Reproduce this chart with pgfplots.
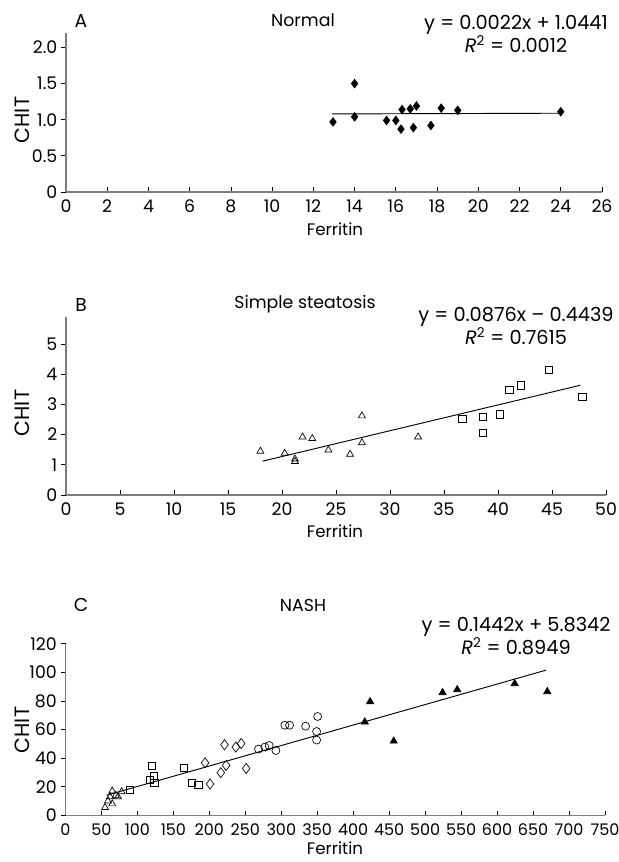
\documentclass[border=0pt]{standalone}
\usepackage{fontspec}
\setmainfont{Poppins}
\usepackage{pgfplots}
\pgfplotsset{compat=1.18}

\definecolor{spine}{RGB}{125,125,125}

\pgfplotsset{
  panel/.style={
    scale only axis, anchor=south west,
    axis x line*=bottom, axis y line*=left,
    axis line style={spine, line width=1pt, -},
    every tick/.style={black, line width=0.6pt},
    xtick align=inside, ytick align=outside,
    major tick length=3.5pt,
    tick label style={font=\fontsize{13}{14}\selectfont},
    xticklabel style={yshift=-2.5pt},
    yticklabel style={xshift=0.5pt},
    /pgf/number format/assume math mode=true,
    clip=false,
  },
  fitline/.style={black, line width=0.7pt, mark=none},
  opentri/.style={only marks, mark=triangle, mark size=3pt, mark options={black, line width=0.5pt}},
  opensq/.style={only marks, mark=square, mark size=2.7pt, mark options={black, line width=0.5pt}},
}

\begin{document}
\begin{tikzpicture}[x=0.75pt, y=-0.75pt]
\useasboundingbox (0,0) rectangle (618,862);
\coordinate (pA) at (66,192);
\coordinate (pB) at (66,495);
\coordinate (pC) at (65.5,815.3);

% ---- A: Normal
\begin{axis}[panel, at={(pA)}, width=402pt, height=119.25pt,
  xmin=0, xmax=26, ymin=0, ymax=2.2,
  xtick={0,2,...,26}, ytick={0,0.5,1,1.5,2},
  yticklabels={0,0.5,1.0,1.5,2.0}]
\addplot[fitline] coordinates {(12.9,1.08) (24,1.09)};
\addplot[only marks, mark=diamond*, mark size=3.3pt, black] coordinates {
  (12.95,0.97) (14.0,1.50) (14.0,1.04) (15.55,0.99) (16.0,0.99)
  (16.3,1.14) (16.25,0.87) (16.7,1.15) (16.85,0.89) (17.0,1.19)
  (17.7,0.92) (18.2,1.16) (19.0,1.13) (24.0,1.11)};
\end{axis}
\node at (81,21) {\fontsize{14}{16}\selectfont A};
\node at (303,20) {\fontsize{13}{15}\selectfont Normal};
\node[align=center] at (516,34) {\fontsize{14.5}{17}\selectfont y = 0.0022x + 1.0441\\[0pt]\fontsize{14.5}{17}\selectfont \textit{R}\textsuperscript{2} = 0.0012};
\node[rotate=90] at (22,120) {\fontsize{15.5}{17}\selectfont CHIT};
\node at (335,229) {\fontsize{12.5}{15}\selectfont Ferritin};

% ---- B: Simple steatosis
\begin{axis}[panel, at={(pB)}, width=405pt, height=133.7pt,
  xmin=0, xmax=50, ymin=0, ymax=5.9,
  xtick={0,5,...,50}, ytick={0,1,...,5}]
\addplot[fitline] coordinates {(18.2,1.12) (47.6,3.63)};
\addplot[opentri] coordinates {
  (18.0,1.45) (20.25,1.38) (21.2,1.19) (21.2,1.11) (21.9,1.92)
  (22.8,1.87) (24.3,1.49) (26.3,1.35) (27.4,2.62) (27.4,1.73) (32.6,1.92)};
\addplot[opensq] coordinates {
  (36.7,2.52) (38.6,2.59) (38.6,2.07) (40.2,2.67) (41.05,3.49)
  (42.1,3.63) (44.7,4.15) (47.8,3.26)};
\end{axis}
\node at (81,305) {\fontsize{14}{16}\selectfont B};
\node at (305,304) {\fontsize{13}{15}\selectfont Simple steatosis};
\node[align=center] at (516,326) {\fontsize{14.5}{17}\selectfont y = 0.0876x – 0.4439\\[0pt]\fontsize{14.5}{17}\selectfont \textit{R}\textsuperscript{2} = 0.7615};
\node[rotate=90] at (22,413) {\fontsize{15.5}{17}\selectfont CHIT};
\node at (335,531) {\fontsize{12.5}{15}\selectfont Ferritin};

% ---- C: NASH
\begin{axis}[panel, at={(pC)}, width=404.6pt, height=128.7pt,
  xmin=0, xmax=750, ymin=0, ymax=120,
  xtick={0,50,...,750}, ytick={0,20,...,120},
  xticklabel style={font=\fontsize{12}{13}\selectfont}]
\addplot[fitline] coordinates {(57,14) (668,101.5)};
\addplot[opentri] coordinates {
  (55,5.5) (59,10) (62,13) (65,17) (65,8) (70,14) (73,13) (78,16.5)};
\addplot[opensq] coordinates {
  (89,17.9) (117.5,24.9) (119.8,34.7) (123,27.4) (123.5,22.6)
  (164.8,33.3) (176,22.6) (184.8,21.2)};
\addplot[only marks, mark=diamond, mark size=3.8pt, mark options={black, line width=0.5pt}] coordinates {
  (194,36.7) (201,21.9) (215.9,29.8) (223.3,34.9) (221,49.3)
  (236.8,47.7) (244.2,50.2) (251.2,32.8)};
\addplot[only marks, mark=o, mark size=3pt, mark options={black, line width=0.5pt}] coordinates {
  (268.3,46.3) (277.2,47.7) (283.2,48.8) (292.5,45.3) (305,63)
  (311.5,63) (333.8,62.3) (349.1,58.6) (349.1,52.6) (350.5,69.1)};
\addplot[only marks, mark=triangle*, mark size=3.2pt, black] coordinates {
  (416.1,65.3) (423.5,79.5) (456.3,51.9) (524.2,85.8) (544.6,87.9)
  (624.5,92.1) (669.8,86.5)};
\end{axis}
\node at (81,605) {\fontsize{14}{16}\selectfont C};
\node at (303,605) {\fontsize{13}{15}\selectfont NASH};
\node[align=center] at (516,636) {\fontsize{14.5}{17}\selectfont y = 0.1442x + 5.8342\\[0pt]\fontsize{14.5}{17}\selectfont \textit{R}\textsuperscript{2} = 0.8949};
\node[rotate=90] at (22,730) {\fontsize{15.5}{17}\selectfont CHIT};
\node at (335,848) {\fontsize{12.5}{15}\selectfont Ferritin};
\end{tikzpicture}
\end{document}
